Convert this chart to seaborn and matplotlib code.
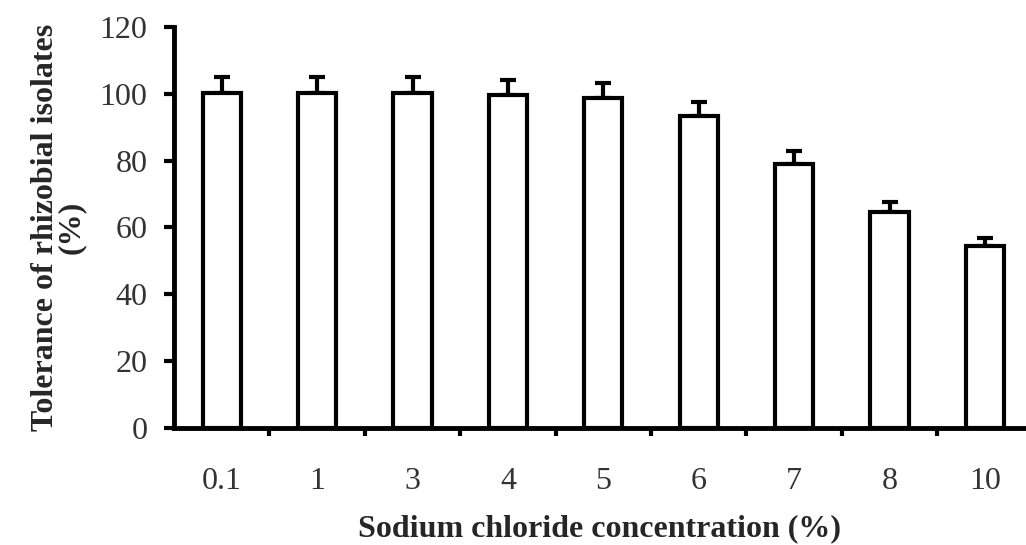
import numpy as np
import pandas as pd
import matplotlib
matplotlib.use("Agg")
import matplotlib.pyplot as plt
import seaborn as sns

# data
concentrations = ["0.1", "1", "3", "4", "5", "6", "7", "8", "10"]
tolerance = [100.2, 100.2, 100.2, 99.6, 98.6, 93.4, 79.0, 64.5, 54.5]
tolerance_err = [4.7, 4.7, 4.7, 4.4, 4.5, 4.1, 3.9, 3.1, 2.5]

df = pd.DataFrame({"conc": concentrations, "tol": tolerance})

sns.set_style("white")
plt.rcParams["font.family"] = ["Liberation Serif", "DejaVu Serif"]

fig = plt.figure(figsize=(10.26, 5.45), dpi=100)
ax = fig.add_axes([0.1696, 0.2147, 0.8294, 0.7358])

sns.barplot(data=df, x="conc", y="tol", color="white", edgecolor="black",
            linewidth=3, width=0.4, errorbar=None, ax=ax, zorder=3)

# upward-only error bars
xs = np.arange(len(concentrations))
ax.errorbar(xs, tolerance, yerr=[np.zeros(len(tolerance_err)), tolerance_err],
            fmt="none", ecolor="black", elinewidth=3, capsize=6, capthick=3,
            zorder=2)

ax.set_ylim(0, 120)
ax.set_xlim(-0.5, 8.42)
ax.set_yticks(range(0, 121, 20))

# ticks at category boundaries, labels at centres
ax.set_xticks(np.arange(0.5, 8, 1))
ax.set_xticklabels([])
ax.set_xticks(xs, minor=True)
ax.set_xticklabels(concentrations, minor=True)
ax.tick_params(axis="x", which="major", direction="out", length=6, width=3,
               color="black", bottom=True)
ax.tick_params(axis="x", which="minor", length=0, pad=28, labelsize=23,
               labelcolor="#333333")
ax.tick_params(axis="y", direction="out", length=7, width=3, color="black",
               pad=12, labelsize=23, labelcolor="#333333", left=True)

for side in ["top", "right"]:
    ax.spines[side].set_visible(False)
for side in ["left", "bottom"]:
    ax.spines[side].set_linewidth(3.5)
    ax.spines[side].set_color("black")

ax.set_xlabel("Sodium chloride concentration (%)", fontsize=23,
              fontweight="bold", labelpad=13)
ax.set_ylabel("Tolerance of rhizobial isolates\n(%)", fontsize=23,
              fontweight="bold", labelpad=10, linespacing=0.85)

fig.savefig("out.png", dpi=100)
